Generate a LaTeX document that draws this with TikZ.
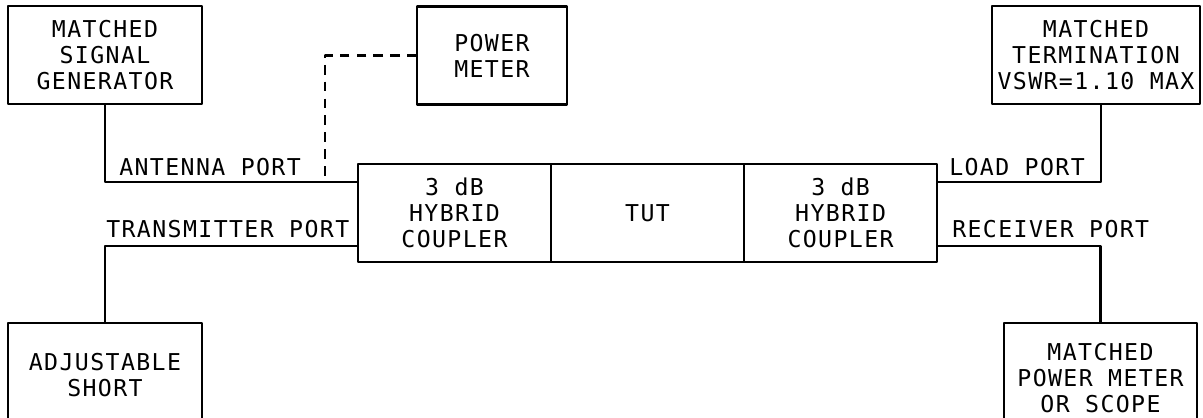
\documentclass[tikz,border=0pt]{standalone}
\usepackage{fontspec}
\setmonofont[LetterSpace=6]{DejaVu Sans Mono}
\usetikzlibrary{arrows.meta,calc}
\usetikzlibrary{positioning}

\begin{document}
\begin{tikzpicture}[x=0.025cm,y=-0.025cm,line join=round,
  blk/.style={draw,line width=1.7pt,outer sep=0pt,inner sep=0pt,align=center,minimum height=2.45cm,font=\ttfamily\fontsize{16.5}{18.4}\selectfont},
  portlbl/.style={inner sep=0pt,font=\ttfamily\fontsize{16.5}{18.4}\selectfont},
  wire/.style={line width=1.7pt},
  meterlink/.style={line width=1.7pt,dash pattern=on 7pt off 5pt}]
\clip (0,0) rectangle (1203,418);
% generator, power meter and termination on top
\node[blk,minimum width=4.85cm] (gen) at (105,55) {MATCHED\\SIGNAL\\GENERATOR};
\node[blk,minimum width=3.75cm] (pm) at (492,55.5) {POWER\\METER};
\node[blk,minimum width=5.2cm] (term) at (1096,55) {MATCHED\\TERMINATION\\VSWR=1.10 MAX};
% coupler -- TUT -- coupler chain
\node[blk,minimum width=4.825cm] (hyb1) at (454.5,213) {3 dB\\HYBRID\\COUPLER};
\node[blk,minimum width=4.825cm,right=0pt of hyb1] (tut) {TUT};
\node[blk,minimum width=4.825cm,right=0pt of tut] (hyb2) {3 dB\\HYBRID\\COUPLER};
% short and receiver below
\node[blk,minimum width=4.85cm,minimum height=2.6cm] (short) at (105,375) {ADJUSTABLE\\SHORT};
\node[blk,minimum width=4.825cm,minimum height=2.75cm] (rx) at (1100.5,378) {MATCHED\\POWER METER\\OR SCOPE};
% ports on the couplers
\coordinate (ant) at (358,182);
\coordinate (tx) at (358,246);
\coordinate (load) at (937,182);
\coordinate (rcv) at (937,246);
\coordinate (tap) at (325,182);
\draw[wire] (gen) |- (ant);
\draw[wire] (short) |- (tx);
\draw[wire] (load) -| ([xshift=0.125cm]term.south);
\draw[wire] (rcv) -| (rx);
\draw[meterlink] (pm.west) -| (tap);
\node[portlbl,anchor=base west] (antlbl) at (119,176) {ANTENNA PORT};
\node[portlbl,anchor=base west] (txlbl) at (106,238) {TRANSMITTER PORT};
\node[portlbl,anchor=base west] (loadlbl) at (949,176) {LOAD PORT};
\node[portlbl,anchor=base west] (rcvlbl) at (952,238) {RECEIVER PORT};
\end{tikzpicture}
\end{document}
